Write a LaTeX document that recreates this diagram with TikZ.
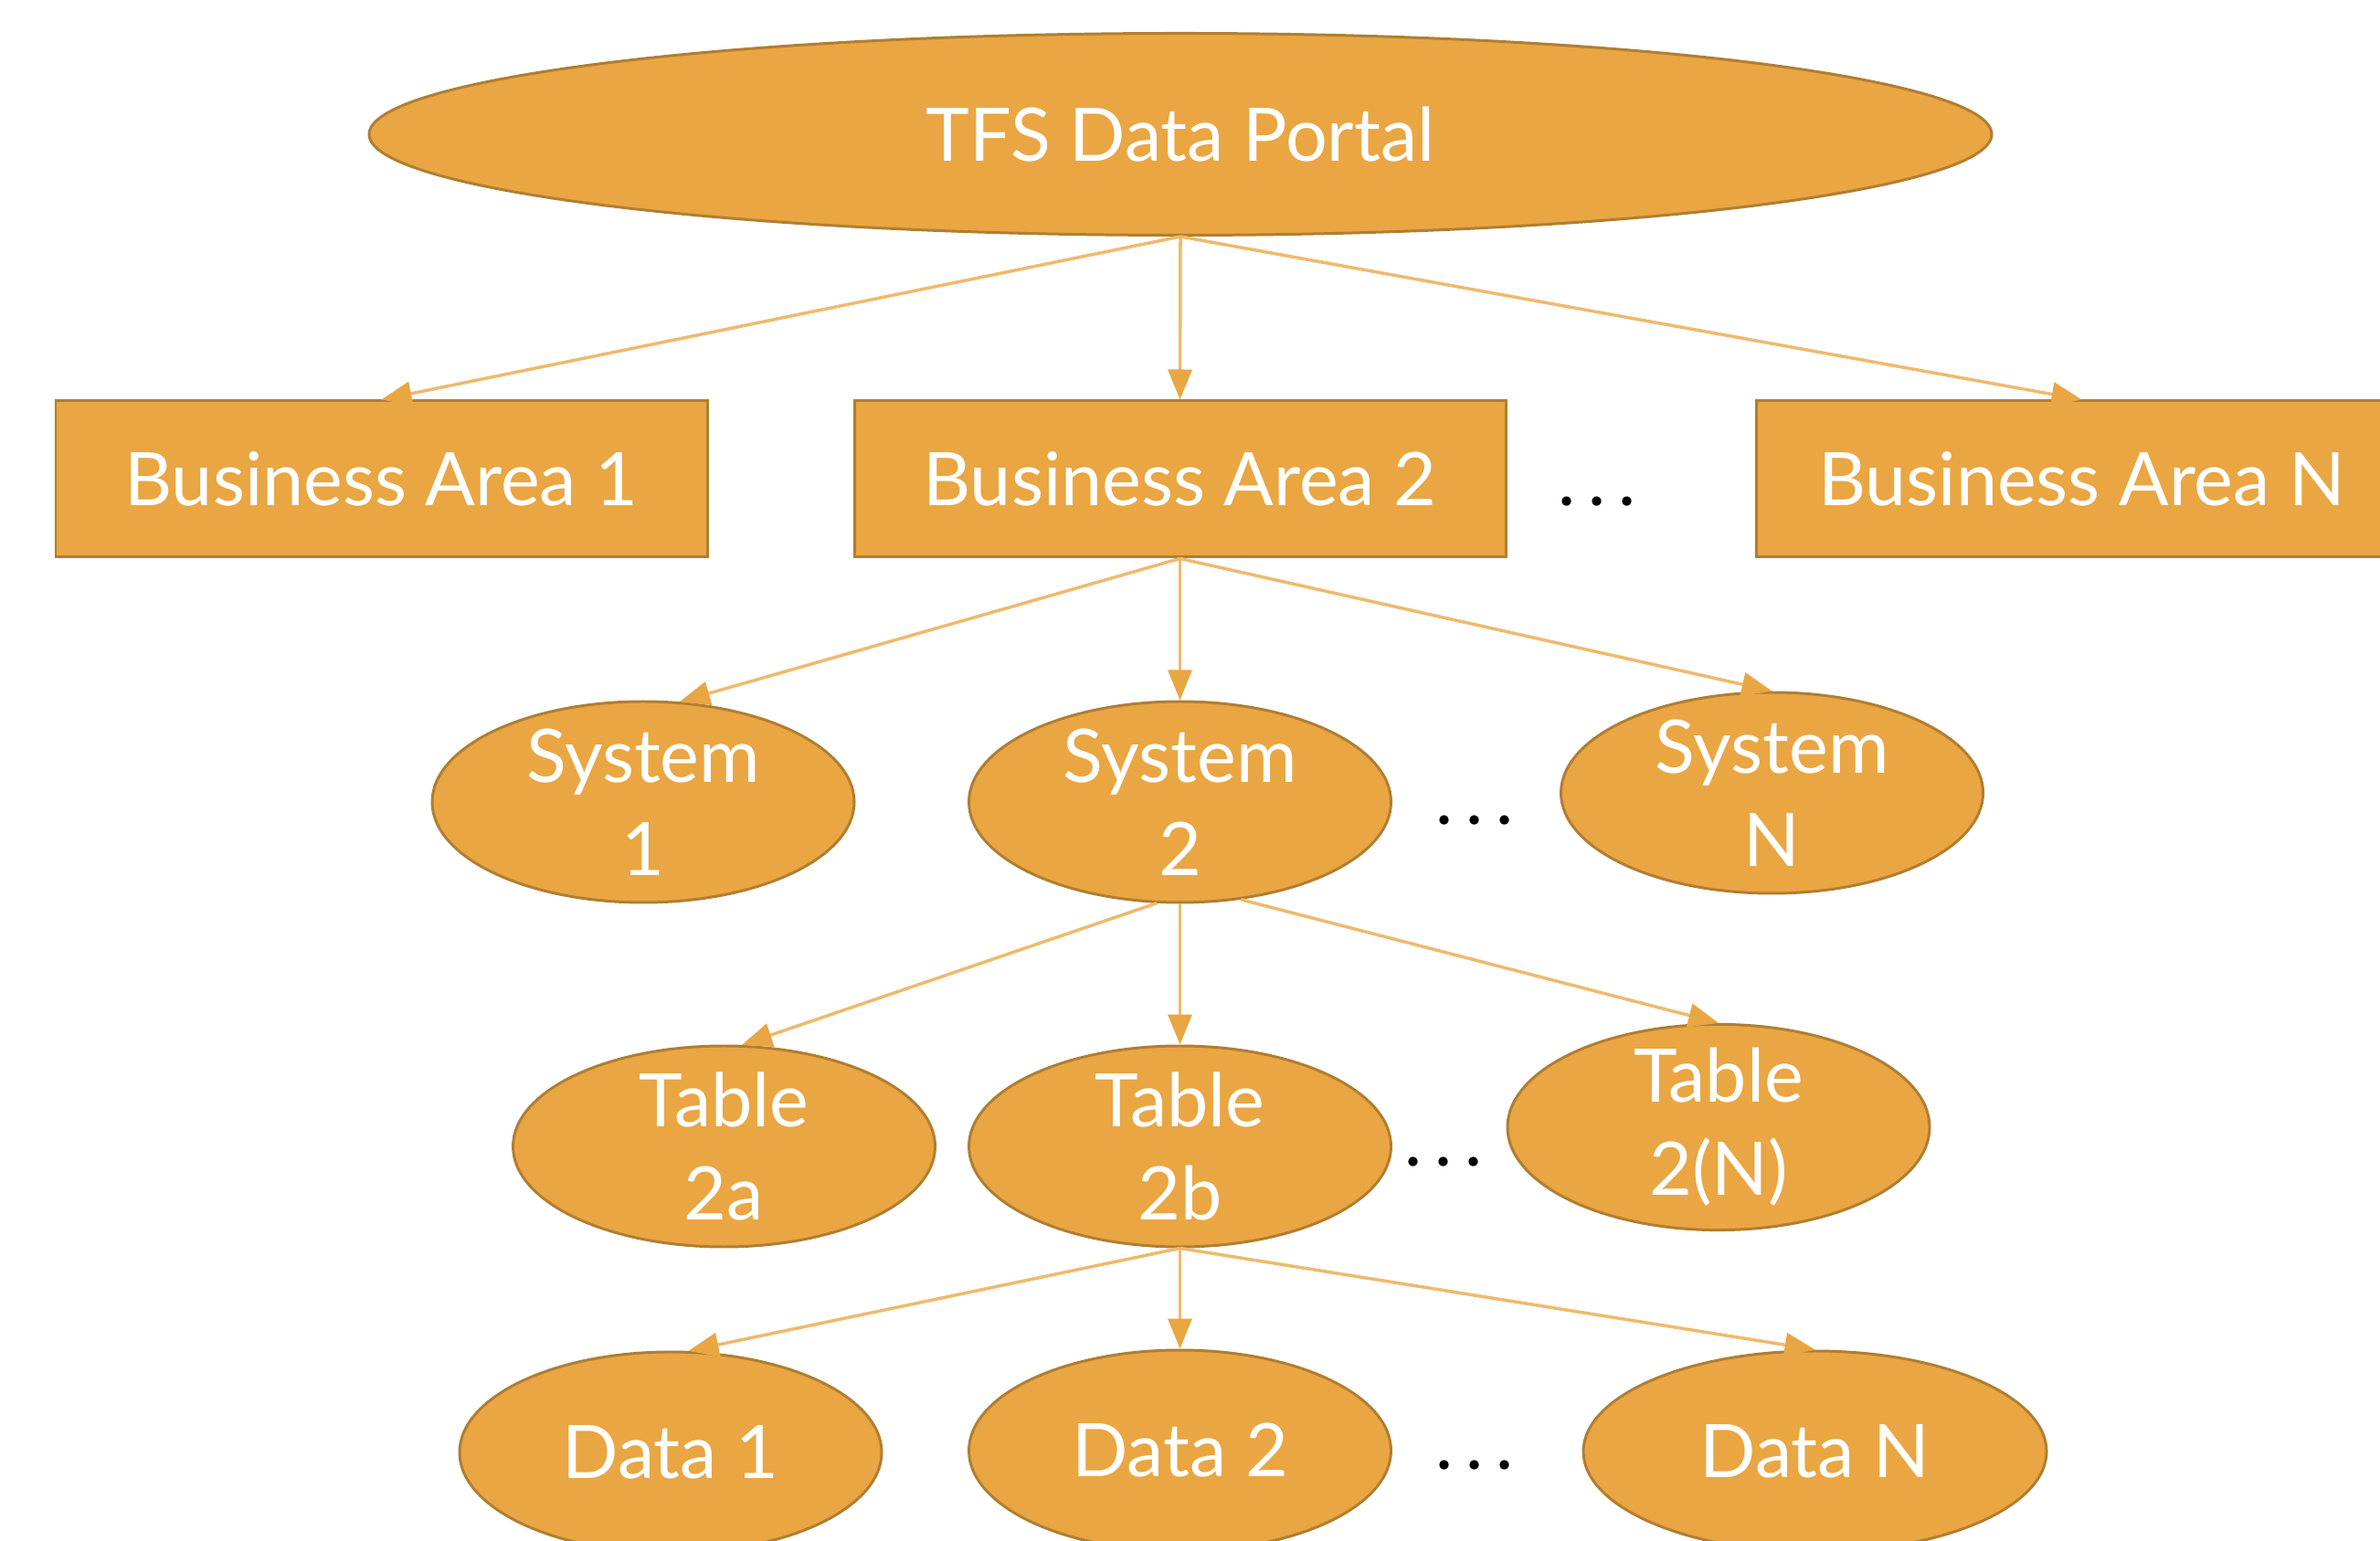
\documentclass[tikz,border=0pt]{standalone}
\usepackage{fontspec}
\setmainfont{Lato}
\usetikzlibrary{shapes.geometric,arrows.meta}

\definecolor{portalfill}{RGB}{233,166,66}
\definecolor{portaledge}{RGB}{176,126,50}
\definecolor{linkline}{RGB}{238,186,110}

\tikzset{
  box/.style={draw=portaledge, line width=0.85pt, fill=portalfill, text=white,
    font=\fontsize{23}{29}\selectfont, inner sep=0pt, align=center},
  area/.style={box, rectangle, minimum width=7.13cm, minimum height=1.71cm},
  blob/.style={box, ellipse, inner ysep=-2pt, minimum width=4.62cm, minimum height=2.2cm},
  link/.style={draw=linkline, line width=1pt,
    -{Triangle[length=0.33cm, width=0.26cm, color=portalfill]}},
  more/.style={font=\fontsize{23}{29}\selectfont}
}

\begin{document}
\begin{tikzpicture}

\useasboundingbox (0, 0) rectangle (26.05, 16.86);

\node[box, ellipse, minimum width=17.76cm, minimum height=2.21cm] (portal) at (12.92, 15.39) {TFS Data Portal};

\node[area] (area1) at (4.175, 11.615) {Business Area 1};
\node[area] (area2) at (12.915, 11.615) {Business Area 2};
\node[area] (areaN) at (22.785, 11.615) {Business Area N};
\node[more] (dots1) at (17.48, 11.37) {.\,.\,.};

\node[blob] (sys1) at (7.04, 8.08) {System\\1};
\node[blob] (sys2) at (12.915, 8.08) {System\\2};
\node[blob] (sysN) at (19.395, 8.18) {System\\N};
\node[more] (dots2) at (16.14, 7.88) {.\,.\,.};

\node[blob] (tab2a) at (7.925, 4.31) {Table\\2a};
\node[blob] (tab2b) at (12.915, 4.31) {Table\\2b};
\node[blob] (tab2N) at (18.81, 4.52) {Table\\2(N)};
\node[more] (dots3) at (15.80, 4.14) {.\,.\,.};

\node[blob] (data1) at (7.34, 0.96) {Data 1};
\node[blob] (data2) at (12.915, 0.98) {Data 2};
\node[blob, minimum width=5.07cm] (dataN) at (19.865, 0.97) {Data N};
\node[more] (dots4) at (16.14, 0.82) {.\,.\,.};

\draw[link] (portal.south) -- (area1.north);
\draw[link] (portal.south) -- (area2.north);
\draw[link] (portal.south) -- (areaN.north);

\draw[link] (area2.south) -- (sys1.70);
\draw[link] (area2.south) -- (sys2.north);
\draw[link] (area2.south) -- (sysN.north);

\draw[link] (sys2.-103) -- (tab2a.80);
\draw[link] (sys2.south) -- (tab2b.north);
\draw[link] (sys2.-58) -- (tab2N.north);

\draw[link] (tab2b.south) -- (data1.80);
\draw[link] (tab2b.south) -- (data2.north);
\draw[link] (tab2b.south) -- (dataN.north);

\end{tikzpicture}
\end{document}
